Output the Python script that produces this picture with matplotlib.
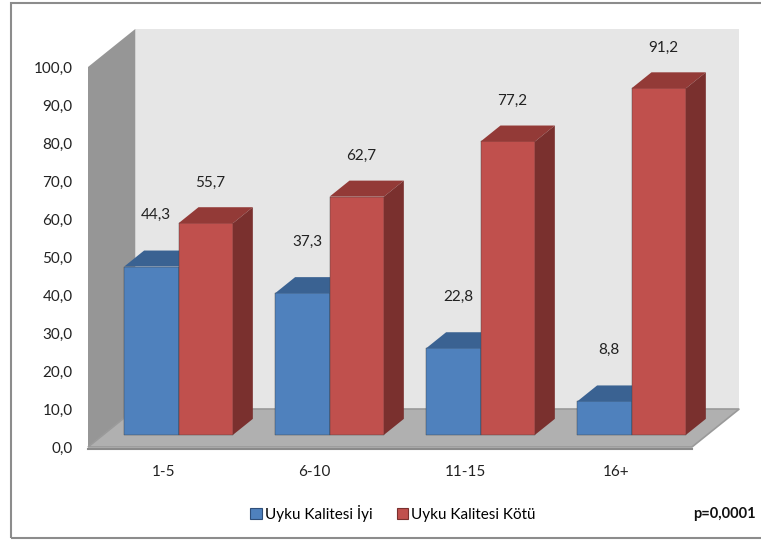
import matplotlib.pyplot as plt
from matplotlib.patches import Polygon, Rectangle, Patch
import numpy as np

plt.rcParams['font.family'] = ['Lato', 'DejaVu Sans']

# Data
categories = ['1-5', '6-10', '11-15', '16+']
iyi = [44.3, 37.3, 22.8, 8.8]
kotu = [55.7, 62.7, 77.2, 91.2]
series_names = ['Uyku Kalitesi İyi', 'Uyku Kalitesi Kötü']
p_text = 'p=0,0001'

# Colours (front, top, side)
blue = ('#4f81bd', '#3a6292', '#34577f')
red = ('#c0504d', '#933a37', '#7a302e')

# 3D look: depth vector of the whole plot box and of one bar, in data units
DX, DY = 0.313, 10.0
bar_front = 0.32    # where the bars start inside the depth
bar_depth = 0.42
width = 0.36
ymax = 100

fig = plt.figure(figsize=(7.61, 5.41), dpi=100)
ax = fig.add_axes([88 / 761, 1 - 447 / 541, 604 / 761, 380 / 541])
x = np.arange(len(categories))
x0, x1 = -0.5, len(categories) - 0.5
ax.set_xlim(x0, x1)
ax.set_ylim(0, ymax)

# walls and floor
back = Polygon([(x0 + DX, DY), (x1 + DX, DY), (x1 + DX, ymax + DY), (x0 + DX, ymax + DY)],
               closed=True, fc='#e6e6e6', ec='none', clip_on=False, zorder=1)
left = Polygon([(x0, 0), (x0 + DX, DY), (x0 + DX, ymax + DY), (x0, ymax)],
               closed=True, fc='#969696', ec='none', clip_on=False, zorder=2)
floor = Polygon([(x0, 0), (x1, 0), (x1 + DX, DY), (x0 + DX, DY)],
                closed=True, fc='#b0b0b0', ec='#9a9a9a', lw=1.2, clip_on=False, zorder=3)
for p in (back, left, floor):
    ax.add_patch(p)
ax.plot([x0, x1], [-0.4, -0.4], color='#8a8a8a', lw=1.5, clip_on=False, zorder=3)

fx, fy = DX * bar_front, DY * bar_front
bx, by = DX * bar_depth, DY * bar_depth


def draw_bars(xs, vals, cols, lab_dy):
    front, top, side = cols
    ax.bar(xs + fx, vals, width=width, bottom=fy, color=front,
           edgecolor='#3f3f3f', linewidth=0.3, zorder=5, clip_on=False)
    for xc, v in zip(xs, vals):
        l, r = xc + fx - width / 2, xc + fx + width / 2
        t = fy + v
        ax.add_patch(Polygon([(l, t), (r, t), (r + bx, t + by), (l + bx, t + by)],
                             closed=True, fc=top, ec='none', zorder=5, clip_on=False))
        ax.add_patch(Polygon([(r, fy), (r + bx, fy + by), (r + bx, t + by), (r, t)],
                             closed=True, fc=side, ec='none', zorder=5, clip_on=False))
        ax.text(xc + fx + 0.03, t + lab_dy, f'{v:.1f}'.replace('.', ','),
                ha='center', va='center', fontsize=11, color='#222222', zorder=6)


draw_bars(x - width / 2, iyi, blue, 13.5)
draw_bars(x + width / 2, kotu, red, 10.7)

# axes
for s in ax.spines.values():
    s.set_visible(False)
ax.set_yticks(np.arange(0, 101, 10))
ax.set_yticklabels([f'{v:.1f}'.replace('.', ',') for v in np.arange(0, 101, 10)])
ax.set_xticks(x)
ax.set_xticklabels(categories)
ax.tick_params(axis='y', length=0, pad=11, labelsize=11, labelcolor='#222222')
ax.tick_params(axis='x', length=0, pad=13, labelsize=11, labelcolor='#222222')
ax.patch.set_visible(False)

handles = [Patch(fc=blue[0], ec='#2f4f7a', lw=0.8), Patch(fc=red[0], ec='#7a302e', lw=0.8)]
fig.legend(handles, series_names, loc='center', bbox_to_anchor=(393 / 761, 1 - 513 / 541),
           ncol=2, frameon=False, fontsize=11, handlelength=0.75, handleheight=0.75,
           handletextpad=0.2, columnspacing=1.6)
fig.text(756 / 761, 1 - 514 / 541, p_text, ha='right', va='center',
         fontsize=10.5, fontweight='bold', color='#111111')

# outer frame
fig.patches.append(Rectangle((11 / 761, 3 / 541), 1.2, 535 / 541, transform=fig.transFigure,
                             fill=False, ec='#8c8c8c', lw=1.5))

fig.savefig('out.png', dpi=100)
